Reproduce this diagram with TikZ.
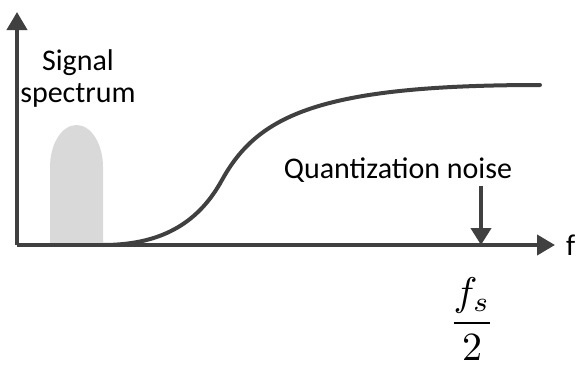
\documentclass[tikz,border=0pt]{standalone}
\usepackage{fontspec}
\setmainfont{Carlito}
\usepackage{tikz}
\usetikzlibrary{positioning, arrows.meta}
\definecolor{axisGrey}{HTML}{404040}
\definecolor{bandGrey}{HTML}{D9D9D9}

\begin{document}
\begin{tikzpicture}[x=1pt, y=-1pt, font=\fontsize{30}{32}\selectfont,
  axis/.style={line width=4pt, axisGrey, -{Triangle[length=18pt, width=20pt]}}]
\useasboundingbox (0,0) rectangle (576,367);
\coordinate (origin) at (17,245);
\coordinate (ytop) at (17,12);
\coordinate (xend) at (555,245);
\coordinate (nyquist) at (481,245);
% signal band
\fill[bandGrey] (50,245) -- (50,167) arc[start angle=180, end angle=0, x radius=26.5pt, y radius=42pt] -- (103,245) -- cycle;
% noise shaping curve
\draw[line width=4pt, axisGrey, line cap=round]
  (103,245) .. controls (165,245) and (200,220) .. (222,180)
  .. controls (258,115) and (320,85) .. (540,85);
\draw[axis] (origin) -- (ytop);
\draw[axis] (origin) -- (xend);
\node[anchor=base, align=center] (signal) at (78,102) {Signal\\spectrum};
\node[anchor=base] (noise) at (398,178) {Quantization noise};
\draw[axis, -{Triangle[length=17pt, width=20pt]}] (nyquist |- noise.south) -- (nyquist);
\node[anchor=base west, inner sep=0pt] (freq) at (566,255) {f};
\node[anchor=base, font=\normalsize, scale=4, inner sep=0pt] (fs) at (472,333) {$\displaystyle\frac{f_s}{2}$};
\end{tikzpicture}
\end{document}
